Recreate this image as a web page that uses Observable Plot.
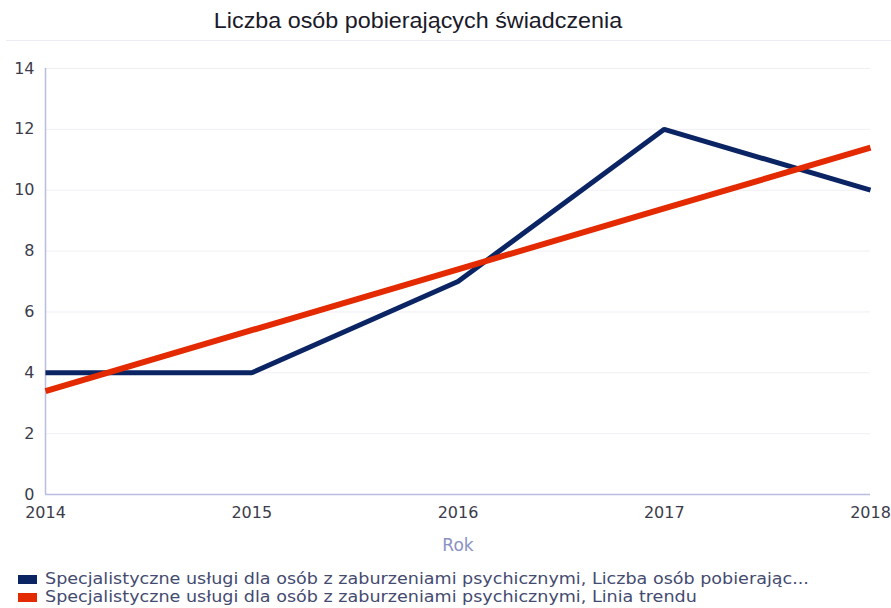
<!DOCTYPE html>
<html>
<head>
<meta charset="utf-8">
<script src="https://cdn.jsdelivr.net/npm/d3@7"></script>
<script src="https://cdn.jsdelivr.net/npm/@observablehq/plot@0.6"></script>
<style>
  html, body { margin: 0; padding: 0; background: #fff; }
  #wrap { position: relative; width: 891px; height: 608px; overflow: hidden; font-family: "DejaVu Sans", Verdana, sans-serif; }
  #title { position: absolute; top: 8px; left: 0; width: 836px; text-align: center; font-family: "Liberation Sans", Arial, sans-serif; font-size: 22px; color: #1a1a2a; transform: scaleX(1.06); transform-origin: 418px 0; }
  #sep { position: absolute; top: 40px; left: 6px; width: 885px; height: 1px; background: #ececf4; }
  #chart { position: absolute; top: 0; left: 0; }
  #legend { position: absolute; left: 18px; top: 570px; font-size: 15px; color: #444b70; line-height: 18px; }
  .item { display: flex; align-items: center; white-space: nowrap; }
  .sw { width: 19px; height: 9px; margin-right: 8px; flex: none; }
  .lt { display: inline-block; transform: scaleX(1.17); transform-origin: 0 50%; }
</style>
</head>
<body>
<div id="wrap">
  <div id="title">Liczba osób pobierających świadczenia</div>
  <div id="sep"></div>
  <div id="chart"></div>
  <div id="legend"></div>
</div>
<script>
const years = [2014, 2015, 2016, 2017, 2018];
const persons = [4, 4, 7, 12, 10];
const trend = [3.4, 5.4, 7.4, 9.4, 11.4];
const yTicks = [0, 2, 4, 6, 8, 10, 12, 14];
const seriesNames = [
  "Specjalistyczne usługi dla osób z zaburzeniami psychicznymi, Liczba osób pobierając...",
  "Specjalistyczne usługi dla osób z zaburzeniami psychicznymi, Linia trendu"
];
const seriesColors = ["#0b2463", "#e42a00"];

const dataPersons = years.map((y, i) => ({year: y, value: persons[i]}));
const dataTrend = years.map((y, i) => ({year: y, value: trend[i]}));

const chart = Plot.plot({
  width: 891,
  height: 608,
  marginTop: 68,
  marginBottom: 114,
  marginLeft: 45,
  marginRight: 21,
  style: {fontFamily: "DejaVu Sans, Verdana, sans-serif", fontSize: "16px", color: "#3c3c4c", background: "transparent"},
  x: {domain: [2014, 2018], ticks: years, tickFormat: d => String(d), tickSize: 0, tickPadding: 12, label: null},
  y: {domain: [0, 14], ticks: yTicks, tickSize: 0, tickPadding: 11, label: null},
  marks: [
    Plot.gridY(yTicks.filter(t => t > 0), {stroke: "#efeff6", strokeOpacity: 1}),
    Plot.ruleX([2014], {stroke: "#b9bddf", strokeWidth: 1.5}),
    Plot.ruleY([0], {stroke: "#b9bddf", strokeWidth: 1.5}),
    Plot.axisX({ticks: years, tickFormat: d => String(d), tickSize: 0, tickPadding: 12, label: null, fill: "#3c3c4c"}),
    Plot.axisY({ticks: yTicks, tickSize: 0, tickPadding: 11, label: null, fill: "#3c3c4c"}),
    Plot.text(["Rok"], {frameAnchor: "bottom", dy: 56, fill: "#8a91c4", fontSize: 17}),
    Plot.line(dataPersons, {x: "year", y: "value", stroke: seriesColors[0], strokeWidth: 5, strokeLinejoin: "miter", strokeLinecap: "butt"}),
    Plot.line(dataTrend, {x: "year", y: "value", stroke: seriesColors[1], strokeWidth: 6, strokeLinecap: "butt"})
  ]
});
document.getElementById("chart").appendChild(chart);

const legend = document.getElementById("legend");
seriesNames.forEach((n, i) => {
  const row = document.createElement("div");
  row.className = "item";
  const sw = document.createElement("span");
  sw.className = "sw";
  sw.style.background = seriesColors[i];
  const t = document.createElement("span");
  t.className = "lt";
  t.textContent = n;
  row.appendChild(sw);
  row.appendChild(t);
  legend.appendChild(row);
});
</script>
</body>
</html>
